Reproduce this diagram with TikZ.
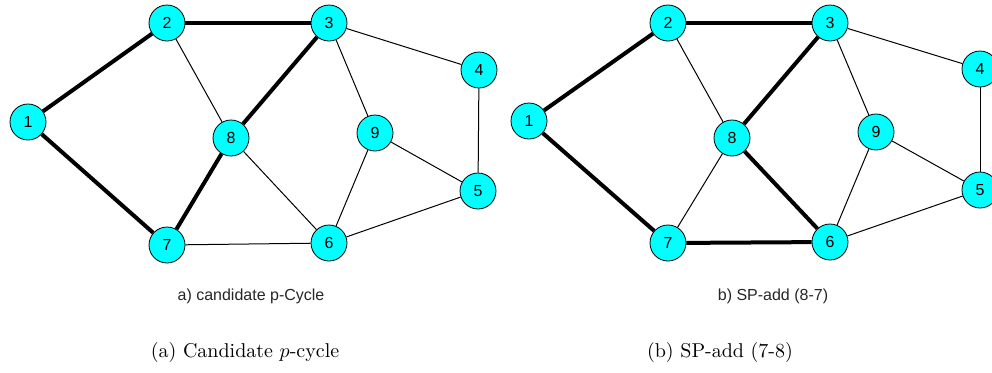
\documentclass[tikz,border=0pt]{standalone}
\usepackage{fontspec}
\newfontfamily\graphfont{Liberation Sans}
\usepackage{tikz}
\usetikzlibrary{positioning}
\definecolor{nodecyan}{HTML}{00ffff}

\begin{document}
\begin{tikzpicture}[
  x=0.5pt, y=-0.5pt,
  vertex/.style={circle, draw=black, fill=nodecyan, minimum size=18pt, inner sep=0pt, font=\graphfont\fontsize{8}{9}\selectfont},
  link/.style={line width=0.5pt},
  cycle/.style={line width=2pt},
  smallcap/.style={font=\graphfont\fontsize{8}{9}\selectfont, text=black!85},
  subcap/.style={font=\normalsize},
]
\useasboundingbox (0,0) rectangle (992,372);
% panel a
\foreach \n/\x/\y in {1/28/122, 2/167/23, 3/329/23, 4/479/70, 5/478/191, 6/329/243, 7/167/245, 8/231/138, 9/375/133}
  \node[vertex] (a\n) at (\x,\y) {\n};
\foreach \u/\v in {3/4, 4/5, 5/6, 6/7, 2/8, 3/9, 8/6, 9/6, 9/5}
  \draw[link] (a\u) -- (a\v);
\foreach \u/\v in {1/2, 2/3, 3/8, 8/7, 7/1}
  \draw[cycle] (a\u) -- (a\v);
\node[smallcap] (capa) at (251,296) {a) candidate p-Cycle};
% panel b
\foreach \n/\x/\y in {1/529/121, 2/668/23, 3/830/23, 4/980/69, 5/980/190, 6/830/242, 7/668/243, 8/732/138, 9/876/132}
  \node[vertex] (b\n) at (\x,\y) {\n};
\foreach \u/\v in {3/4, 4/5, 5/6, 2/8, 3/9, 8/7, 9/6, 9/5}
  \draw[link] (b\u) -- (b\v);
\foreach \u/\v in {1/2, 2/3, 3/8, 8/6, 6/7, 7/1}
  \draw[cycle] (b\u) -- (b\v);
\node[smallcap] (capb) at (773,296) {b) SP-add (8-7)};
% subfigure captions
\node[subcap] (suba) at (245,352) {(a) Candidate $p$-cycle};
\node[subcap] (subb) at (720,352) {(b) SP-add (7-8)};
\end{tikzpicture}
\end{document}
